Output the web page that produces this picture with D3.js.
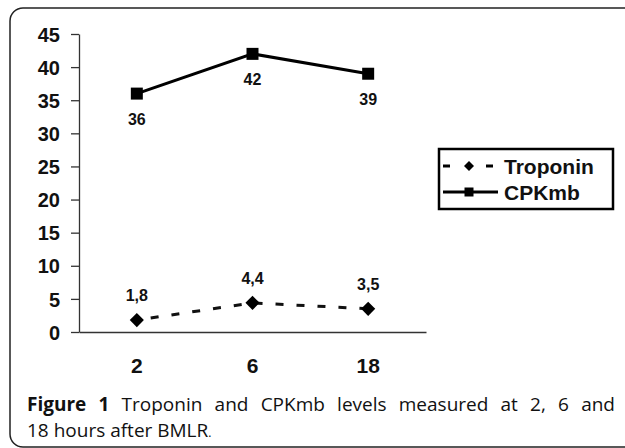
<!DOCTYPE html>
<html>
<head>
<meta charset="utf-8">
<script src="https://cdn.jsdelivr.net/npm/d3@7"></script>
<style>
  html, body { margin: 0; padding: 0; background: #fff; }
  svg { display: block; }
</style>
</head>
<body>
<svg id="chart" width="625" height="448"></svg>
<script>
// ---- data ----
const categories = ["2", "6", "18"];
const troponin = [1.8, 4.4, 3.5];
const cpkmb = [36, 42, 39];
const troponinLabels = ["1,8", "4,4", "3,5"];
const cpkmbLabels = ["36", "42", "39"];
const yTicks = [0, 5, 10, 15, 20, 25, 30, 35, 40, 45];
const seriesNames = ["Troponin", "CPKmb"];
const captionLine1 = [["Figure", true], ["1", true], ["Troponin", false], ["and", false], ["CPKmb", false],
  ["levels", false], ["measured", false], ["at", false], ["2,", false], ["6", false], ["and", false]];
const captionLine2 = "18 hours after BMLR";

const svg = d3.select("#chart");
const chartFont = "'Liberation Sans', Arial, sans-serif";
const capFont = "'Open Sans', 'Noto Sans', sans-serif";

// frame
svg.append("rect").attr("x", 10).attr("y", 8).attr("width", 650).attr("height", 439)
  .attr("rx", 13).attr("ry", 13).attr("fill", "none").attr("stroke", "#222").attr("stroke-width", 1.5);

// scales
const x = d3.scaleBand().domain(categories).range([79, 426]).paddingInner(0).paddingOuter(0);
const cx = d => x(d) + x.bandwidth() / 2;
const y = d3.scaleLinear().domain([0, 45]).range([332, 34]);

// y axis
const yAxis = svg.append("g").attr("transform", "translate(79,0)")
  .call(d3.axisLeft(y).tickValues(yTicks).tickSize(8).tickSizeOuter(0).tickPadding(11));
yAxis.select(".domain").attr("stroke", "#333").attr("stroke-width", 1.3);
yAxis.selectAll(".tick line").attr("stroke", "#333").attr("stroke-width", 1.3);
yAxis.selectAll(".tick text").attr("font-family", chartFont).attr("font-weight", "bold")
  .attr("font-size", 20).attr("fill", "#111").attr("dy", "0.36em");

// x axis
const xAxis = svg.append("g").attr("transform", "translate(0,332)")
  .call(d3.axisBottom(x).tickSize(0).tickSizeOuter(0).tickPadding(0));
xAxis.select(".domain").attr("stroke", "#333").attr("stroke-width", 1.3);
xAxis.selectAll(".tick text").attr("font-family", chartFont).attr("font-weight", "bold")
  .attr("font-size", 21).attr("fill", "#111").attr("dy", null).attr("y", 41);

// lines
const lineGen = vals => d3.line().x((d, i) => cx(categories[i])).y(d => y(d))(vals);
svg.append("path").attr("d", lineGen(cpkmb)).attr("fill", "none").attr("stroke", "#000").attr("stroke-width", 3);
svg.append("path").attr("d", lineGen(troponin)).attr("fill", "none").attr("stroke", "#111")
  .attr("stroke-width", 3).attr("stroke-dasharray", "8,13").attr("stroke-dashoffset", -14);

// markers
const square = d3.symbol().type(d3.symbolSquare);
svg.selectAll(".sq").data(cpkmb).join("path")
  .attr("d", square.size(144)())
  .attr("transform", (d, i) => `translate(${cx(categories[i])},${y(d)})`).attr("fill", "#000");
svg.selectAll(".dia").data(troponin).join("path")
  .attr("d", d3.symbol().type(d3.symbolSquare).size(100)())
  .attr("transform", (d, i) => `translate(${cx(categories[i])},${y(d)}) rotate(45)`).attr("fill", "#000");

// data labels
svg.selectAll(".lc").data(cpkmb).join("text")
  .attr("x", (d, i) => cx(categories[i])).attr("y", d => y(d) + 31)
  .attr("text-anchor", "middle").attr("font-family", chartFont).attr("font-weight", "bold")
  .attr("font-size", 16).attr("fill", "#111").text((d, i) => cpkmbLabels[i]);
svg.selectAll(".lt").data(troponin).join("text")
  .attr("x", (d, i) => cx(categories[i])).attr("y", d => y(d) - 19)
  .attr("text-anchor", "middle").attr("font-family", chartFont).attr("font-weight", "bold")
  .attr("font-size", 16).attr("fill", "#111").text((d, i) => troponinLabels[i]);

// legend
const lg = svg.append("g");
lg.append("rect").attr("x", 439).attr("y", 149).attr("width", 174).attr("height", 60)
  .attr("fill", "#fff").attr("stroke", "#000").attr("stroke-width", 2.5);
const rows = [166, 192];
// troponin row
lg.append("line").attr("x1", 443).attr("x2", 450).attr("y1", rows[0]).attr("y2", rows[0]).attr("stroke", "#000").attr("stroke-width", 3);
lg.append("line").attr("x1", 486).attr("x2", 493).attr("y1", rows[0]).attr("y2", rows[0]).attr("stroke", "#000").attr("stroke-width", 3);
lg.append("path").attr("d", d3.symbol().type(d3.symbolSquare).size(50)())
  .attr("transform", `translate(469,${rows[0]}) rotate(45)`).attr("fill", "#000");
// cpk row
lg.append("line").attr("x1", 443).attr("x2", 498).attr("y1", rows[1]).attr("y2", rows[1]).attr("stroke", "#000").attr("stroke-width", 3);
lg.append("path").attr("d", d3.symbol().type(d3.symbolSquare).size(81)())
  .attr("transform", `translate(469,${rows[1]})`).attr("fill", "#000");
lg.selectAll(".lt2").data(seriesNames).join("text")
  .attr("x", 504).attr("y", (d, i) => rows[i]).attr("dy", "0.36em")
  .attr("font-family", chartFont).attr("font-weight", "bold").attr("font-size", 21)
  .attr("fill", "#111").text(d => d);

// caption line 1 (justified)
const cap = svg.append("g").attr("font-family", capFont).attr("font-size", 19).attr("fill", "#111");
const words = cap.selectAll(".w").data(captionLine1).join("text")
  .attr("y", 411).attr("font-weight", d => d[1] ? 700 : 500).text(d => d[0]);
const widths = [];
words.each(function () { widths.push(this.getComputedTextLength()); });
const left = 27, right = 615;
const total = d3.sum(widths);
const gap = (right - left - total) / (widths.length - 1);
let xx = left;
words.attr("x", (d, i) => { const v = xx; xx += widths[i] + gap; return v; });

// caption line 2
const t2 = cap.append("text").attr("x", 27).attr("y", 437).attr("font-weight", 500);
t2.append("tspan").text(captionLine2);
t2.append("tspan").attr("font-size", 12).text(".");
</script>
</body>
</html>
